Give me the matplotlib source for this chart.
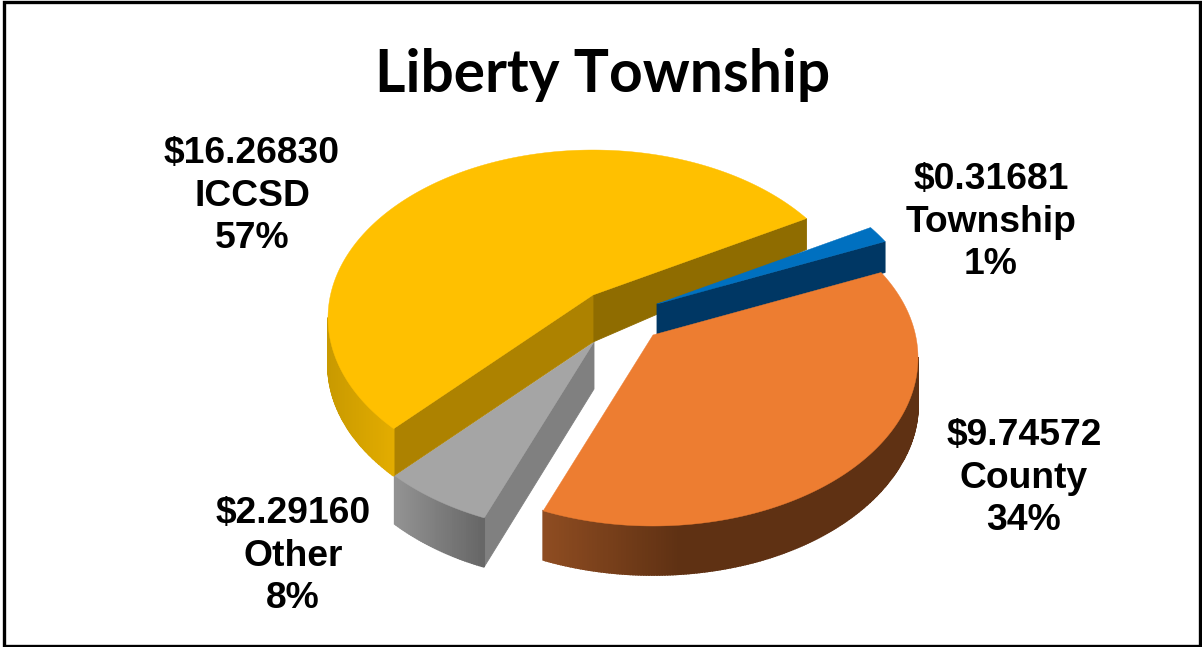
import numpy as np
import matplotlib
matplotlib.use('Agg')
import matplotlib.pyplot as plt
from matplotlib.colors import to_rgb
from matplotlib.patches import Rectangle

# slices in counter-clockwise drawing order
names = ['ICCSD', 'Other', 'County', 'Township']
values = [16.26830, 2.29160, 9.74572, 0.31681]
title = 'Liberty Township'

# the 3D view of the original squeezes some slices and stretches others
sweep_scale = [0.96, 0.75, 1.097, 1.53]
start_angle = 29.7
cx, cy, rx, ry = 593, 318, 265, 168
tilt = 0.137
wall_y = [219, 295, 420, 510]
wall_h = [31, 47, 47, 49]

offsets = {'ICCSD': (0, 0), 'Other': (1, 47), 'County': (60, 40), 'Township': (64, 9)}
top_colors = {'ICCSD': '#FFC000', 'Other': '#A5A5A5', 'County': '#ED7D31', 'Township': '#0070C0'}
radial_colors = {'ICCSD': ('#8F6C00', '#AD8200'), 'Other': ('#808080', '#808080'),
                 'County': ('#5F3113', '#5F3113'), 'Township': ('#003764', '#003764')}
# outer wall gradient: x start, x end, colour start, colour end
outer_colors = {'ICCSD': (330, 400, '#C99A00', '#E5AE00'), 'Other': (398, 485, '#929292', '#666666'),
                'County': (547, 680, '#8E4C21', '#5F3113'), 'Township': (860, 885, '#003764', '#003764')}
label_pos = {'ICCSD': (252, 196), 'Other': (293, 556), 'County': (1024, 478), 'Township': (991, 222)}


def project(angle, radius, name):
    x = radius * np.cos(angle)
    y = radius * np.sin(angle)
    w = 1 + tilt * y
    u = x * np.sqrt(1 - tilt ** 2) / w
    v = (y + tilt) / w
    ox, oy = offsets[name]
    return cx + rx * u + ox, cy - ry * v + oy


def height(py, name):
    if name == 'Township':
        return 31
    return np.interp(py, wall_y, wall_h)


def wall(ax, p, q, name, color, lw=0.6):
    # an edge only shows its side when it runs left to right in ccw order
    if q[0] <= p[0]:
        return
    xs = [p[0], q[0], q[0], p[0]]
    ys = [p[1], q[1], q[1] + height(q[1], name), p[1] + height(p[1], name)]
    ax.fill(xs, ys, color=color, lw=lw, zorder=order[name])


def outer_color(px, name):
    x0, x1, c0, c1 = outer_colors[name]
    f = np.clip((px - x0) / (x1 - x0), 0, 1)
    return tuple((1 - f) * np.array(to_rgb(c0)) + f * np.array(to_rgb(c1)))


fig = plt.figure(figsize=(12.02, 6.47), dpi=100)
ax = fig.add_axes([0, 0, 1, 1])
ax.set_xlim(0, 1202)
ax.set_ylim(647, 0)
ax.axis('off')

order = {'Other': 1, 'ICCSD': 2, 'Township': 3, 'County': 4}
total = sum(values)
sweeps = np.array(values) / total * 360 * np.array(sweep_scale)
sweeps = sweeps * 360 / sweeps.sum()

angle = start_angle
for name, sweep in zip(names, sweeps):
    angles = np.radians(np.linspace(angle, angle + sweep, max(int(sweep * 2), 8)))
    arc = [project(a, 1, name) for a in angles]
    apex = project(0, 0, name)
    wall(ax, apex, arc[0], name, radial_colors[name][0])
    wall(ax, arc[-1], apex, name, radial_colors[name][1])
    for p, q in zip(arc[:-1], arc[1:]):
        wall(ax, p, q, name, outer_color((p[0] + q[0]) / 2, name), lw=1.2)
    pts = [apex] + arc
    ax.fill([p[0] for p in pts], [p[1] for p in pts], color=top_colors[name], lw=0.3,
            zorder=order[name] + 0.5)
    angle += sweep

for name, val in zip(names, values):
    lx, ly = label_pos[name]
    label = f'${val:.5f}\n{name}\n{val / total * 100:.0f}%'
    ax.text(lx, ly, label, ha='center', va='center', ma='center', family='Liberation Sans',
            weight='bold', fontsize=26.8, linespacing=1.27, color='black', parse_math=False, zorder=6)

ax.text(603, 75, title, ha='center', va='center', family='Lato', weight='bold', fontsize=42.2, color='black')

ax.add_patch(Rectangle((3.5, 1.5), 1196, 644, fill=False, ec='black', lw=2.4, zorder=7))

fig.savefig('out.png', dpi=100, facecolor='white')
